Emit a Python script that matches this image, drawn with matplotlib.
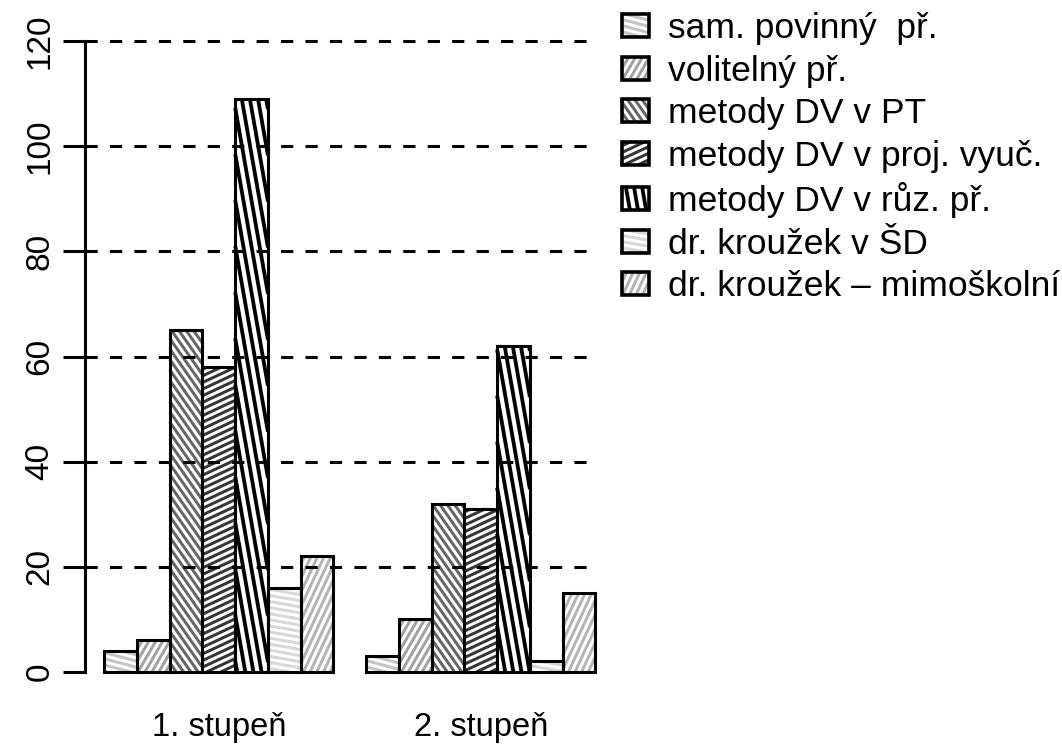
import matplotlib
matplotlib.use("Agg")
import matplotlib.pyplot as plt
import numpy as np
from matplotlib.collections import LineCollection
from matplotlib.transforms import IdentityTransform
from matplotlib.legend_handler import HandlerBase
from matplotlib.patches import Rectangle

plt.rcParams['font.family'] = ['Liberation Sans', 'DejaVu Sans']

# ---------------- data ----------------
groups = ['1. stupeň', '2. stupeň']
categories = ['sam. povinný  př.', 'volitelný př.', 'metody DV v PT',
              'metody DV v proj. vyuč.', 'metody DV v růz. př.',
              'dr. kroužek v ŠD', 'dr. kroužek – mimoškolní']
stupen1 = [4, 6, 65, 58, 109, 16, 22]
stupen2 = [3, 10, 32, 31, 62, 2, 15]
yticks = [0, 20, 40, 60, 80, 100, 120]

# ---------------- styles ----------------
stripe_colors = ['#c4c4c4', '#a2a2a2', '#666666', '#363636', '#000000', '#d8d8d8', '#b4b4b4']
stripe_angles = [-15, 60, -55, 25, -80, -10, 65]
stripe_spacing_px = [6.0, 6.0, 6.0, 6.0, 8.0, 6.0, 6.0]
stripe_width_px = [3.0, 3.0, 3.0, 3.0, 3.8, 3.0, 3.0]
PX2PT = 0.72


def stripe_segments(x0, y0, x1, y1, angle_deg, spacing):
    th = np.radians(angle_deg)
    d = np.array([np.cos(th), np.sin(th)])
    n = np.array([-np.sin(th), np.cos(th)])
    corners = np.array([[x0, y0], [x1, y0], [x0, y1], [x1, y1]])
    proj = corners @ n
    k0 = np.ceil(proj.min() / spacing)
    k1 = np.floor(proj.max() / spacing)
    segs = []
    for k in np.arange(k0, k1 + 1):
        p = n * k * spacing
        smin, smax = -np.inf, np.inf
        ok = True
        for pc, dc, lo, hi in ((p[0], d[0], x0, x1), (p[1], d[1], y0, y1)):
            if abs(dc) < 1e-12:
                if pc < lo or pc > hi:
                    ok = False
                continue
            a = (lo - pc) / dc
            b = (hi - pc) / dc
            if a > b:
                a, b = b, a
            smin = max(smin, a)
            smax = min(smax, b)
        if ok and smax > smin:
            segs.append([p + smin * d, p + smax * d])
    return segs


class StripeHandler(HandlerBase):
    def __init__(self, color, angle, spacing_px, width_px):
        super().__init__()
        self.color = color
        self.angle = angle
        self.spacing = spacing_px * PX2PT
        self.width = width_px * PX2PT

    def create_artists(self, legend, orig_handle, xdescent, ydescent,
                       width, height, fontsize, trans):
        x0, y0 = -xdescent, -ydescent
        segs = stripe_segments(x0, y0, x0 + width, y0 + height,
                               self.angle, self.spacing)
        lc = LineCollection(segs, colors=self.color, linewidths=self.width,
                            capstyle='butt', transform=trans)
        rect = Rectangle((x0, y0), width, height, facecolor='none',
                         edgecolor='black', linewidth=2.6, transform=trans)
        return [lc, rect]


W, H = 1062, 755
fig = plt.figure(figsize=(W / 100, H / 100), dpi=100)
ax = fig.add_axes([84.6 / W, (H - 697.2) / H, (615 - 84.6) / W, (697.2 - 15.8) / H])
ax.set_xlim(0.4, 16.6)
ax.set_ylim(-4.8, 124.8)

ngrp = len(categories)
handles = []
handler_map = {}
for i in range(ngrp):
    xs = [1.5 + i, 1.5 + ngrp + 1 + i]
    vals = [stupen1[i], stupen2[i]]
    bars = ax.bar(xs, vals, width=1.0, facecolor='none', edgecolor='black',
                  linewidth=2.2, zorder=3)
    for patch in bars.patches:
        bx0, by0 = patch.get_x(), patch.get_y()
        bx1, by1 = bx0 + patch.get_width(), by0 + patch.get_height()
        (px0, py0), (px1, py1) = ax.transData.transform([[bx0, by0], [bx1, by1]])
        segs = stripe_segments(px0, py0, px1, py1, stripe_angles[i], stripe_spacing_px[i])
        lc = LineCollection(segs, colors=stripe_colors[i],
                            linewidths=stripe_width_px[i] * PX2PT,
                            capstyle='butt', transform=IdentityTransform(), zorder=2)
        ax.add_collection(lc, autolim=False)
    handles.append(bars.patches[0])
    handler_map[bars.patches[0]] = StripeHandler(stripe_colors[i], stripe_angles[i],
                                                 stripe_spacing_px[i], stripe_width_px[i])

# dashed reference lines (on top of bars)
ax.hlines(yticks[1:], 0.4, 2 * ngrp + 2, colors='black', linestyles=(0, (4, 4)),
          linewidth=2.2, zorder=4)

for s in ['top', 'right', 'bottom']:
    ax.spines[s].set_visible(False)
ax.spines['left'].set_bounds(yticks[0], yticks[-1])
ax.spines['left'].set_linewidth(2.2)

ax.set_yticks(yticks)
ax.set_yticklabels([str(t) for t in yticks], rotation=90, va='center')
ax.tick_params(axis='y', length=15.8, width=2.2, direction='out', pad=5, labelsize=24)

centers = [1 + ngrp / 2, ngrp + 2 + ngrp / 2]
ax.set_xticks(centers)
ax.set_xticklabels(groups)
ax.tick_params(axis='x', length=0, pad=10.5, labelsize=23.5)

fig.legend(handles, categories, loc='upper left',
           bbox_to_anchor=(622 / W, (H - 12) / H), frameon=False, fontsize=25.5,
           handlelength=0.76, handleheight=0.62, handletextpad=0.54,
           labelspacing=0.27, borderpad=0, borderaxespad=0, handler_map=handler_map)

fig.savefig('out.png', dpi=100)
